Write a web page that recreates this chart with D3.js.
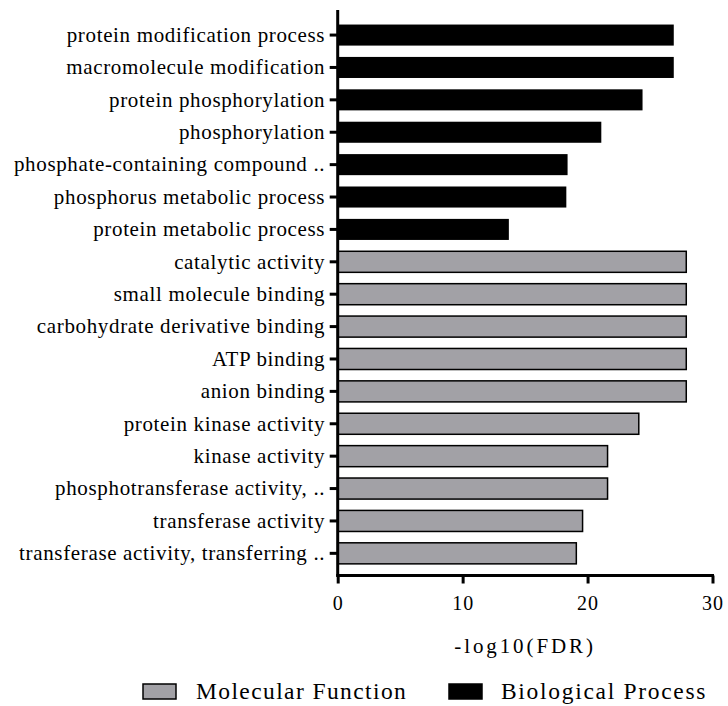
<!DOCTYPE html>
<html>
<head>
<meta charset="utf-8">
<script src="https://cdn.jsdelivr.net/npm/d3@7"></script>
<style>
  body { margin: 0; background: #fff; }
  svg text { font-family: "Liberation Serif", "Times New Roman", serif; fill: #000; }
</style>
</head>
<body>
<div id="chart"></div>
<script>
// GO terms, top to bottom
const terms = [
  "protein modification process",
  "macromolecule modification",
  "protein phosphorylation",
  "phosphorylation",
  "phosphate-containing compound ..",
  "phosphorus metabolic process",
  "protein metabolic process",
  "catalytic activity",
  "small molecule binding",
  "carbohydrate derivative binding",
  "ATP binding",
  "anion binding",
  "protein kinase activity",
  "kinase activity",
  "phosphotransferase activity, ..",
  "transferase activity",
  "transferase activity, transferring .."
];
const fdrValues = [26.9, 26.9, 24.4, 21.1, 18.4, 18.3, 13.7, 27.9, 27.9, 27.9, 27.9, 27.9, 24.1, 21.6, 21.6, 19.6, 19.1];
const groups = ["BP", "BP", "BP", "BP", "BP", "BP", "BP", "MF", "MF", "MF", "MF", "MF", "MF", "MF", "MF", "MF", "MF"];
const xTicks = [0, 10, 20, 30];
const legendItems = [
  { key: "MF", label: "Molecular Function" },
  { key: "BP", label: "Biological Process" }
];

const data = terms.map((t, i) => ({ term: t, value: fdrValues[i], group: groups[i] }));

const W = 728, H = 706;
const fill = { MF: "#a2a1a6", BP: "#000000" };

const svg = d3.select("#chart").append("svg")
  .attr("width", W)
  .attr("height", H);

const x = d3.scaleLinear().domain([0, 30]).range([337.7, 712.5]);
const y = d3.scaleBand().domain(terms).range([13.2, 575.2]).paddingInner(0.35).paddingOuter(0.35);
const axisY = 575.5;

// bars
svg.selectAll(".bar")
  .data(data)
  .enter().append("rect")
  .attr("class", "bar")
  .attr("x", x(0))
  .attr("y", d => y(d.term))
  .attr("width", d => x(d.value) - x(0))
  .attr("height", y.bandwidth())
  .attr("fill", d => fill[d.group])
  .attr("stroke", d => d.group === "MF" ? "#000" : "none")
  .attr("stroke-width", 1.5);

// y axis
const yAxis = svg.append("g")
  .attr("transform", `translate(${x(0)},0)`)
  .call(d3.axisLeft(y).tickSize(8).tickPadding(4.5).tickSizeOuter(0))
  .attr("font-family", null)
  .attr("font-size", null);
yAxis.select(".domain").remove();
yAxis.append("line")
  .attr("x1", 0).attr("x2", 0)
  .attr("y1", 10).attr("y2", axisY + 1)
  .attr("stroke", "#000").attr("stroke-width", 3);
yAxis.selectAll(".tick line").attr("stroke-width", 3);
yAxis.selectAll(".tick text")
  .style("font-size", "21px")
  .style("letter-spacing", "0.65px");

// x axis
const xAxis = svg.append("g")
  .attr("transform", `translate(0,${axisY})`)
  .call(d3.axisBottom(x).tickValues(xTicks).tickSize(8).tickPadding(12).tickSizeOuter(0))
  .attr("font-family", null)
  .attr("font-size", null);
xAxis.select(".domain").remove();
xAxis.append("line")
  .attr("x1", x(0) - 1.5).attr("x2", x(30) + 1.5)
  .attr("y1", 0).attr("y2", 0)
  .attr("stroke", "#000").attr("stroke-width", 3);
xAxis.selectAll(".tick line").attr("stroke-width", 3);
xAxis.selectAll(".tick text")
  .style("font-size", "20px")
  .style("letter-spacing", "1px");

// axis title
svg.append("text")
  .attr("x", (x(0) + x(30)) / 2)
  .attr("y", 653)
  .attr("text-anchor", "middle")
  .style("font-size", "21px")
  .style("letter-spacing", "2.9px")
  .text("-log10(FDR)");

// legend
const legendX = [143, 449];
const textOffset = [53, 52];
const lg = svg.selectAll(".legend")
  .data(legendItems)
  .enter().append("g")
  .attr("class", "legend")
  .attr("transform", (d, i) => `translate(${legendX[i]},684)`);
lg.append("rect")
  .attr("width", 33).attr("height", 15)
  .attr("fill", d => fill[d.key])
  .attr("stroke", "#000").attr("stroke-width", 1.5);
lg.append("text")
  .attr("x", (d, i) => textOffset[i]).attr("y", 15)
  .style("font-size", "23.5px")
  .style("letter-spacing", (d, i) => i === 0 ? "1.4px" : "1.7px")
  .text(d => d.label);
</script>
</body>
</html>
